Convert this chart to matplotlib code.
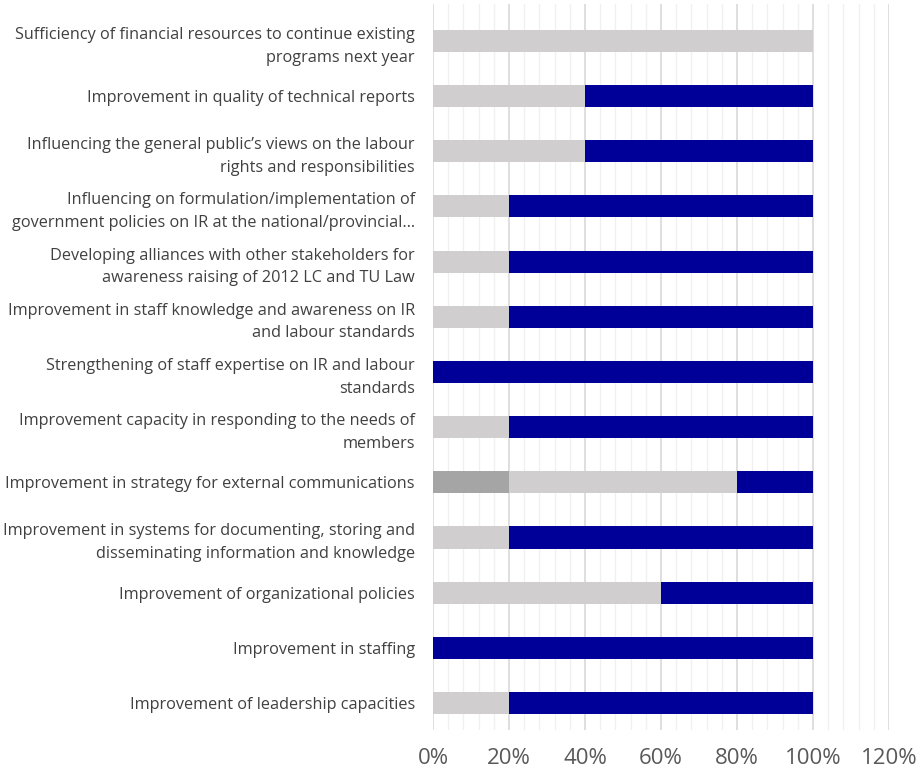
import matplotlib.pyplot as plt
from matplotlib.ticker import MultipleLocator, FuncFormatter
import numpy as np

# categories, top to bottom as in the picture
labels = [
    "Sufficiency of financial resources to continue existing\nprograms next year",
    "Improvement in quality of technical reports",
    "Influencing the general public\u2019s views on the labour\nrights and responsibilities",
    "Influencing on formulation/implementation of\ngovernment policies on IR at the national/provincial\u2026",
    "Developing alliances with other stakeholders for\nawareness raising of 2012 LC and TU Law",
    "Improvement in staff knowledge and awareness on IR\nand labour standards",
    "Strengthening of staff expertise on IR and labour\nstandards",
    "Improvement capacity in responding to the needs of\nmembers",
    "Improvement in strategy for external communications",
    "Improvement in systems for documenting, storing and\ndisseminating information and knowledge",
    "Improvement of organizational policies",
    "Improvement in staffing",
    "Improvement of leadership capacities",
]
dark_grey = [0, 0, 0, 0, 0, 0, 0, 0, 0.2, 0, 0, 0, 0]
light_grey = [1.0, 0.4, 0.4, 0.2, 0.2, 0.2, 0, 0.2, 0.6, 0.2, 0.6, 0, 0.2]
navy = [0, 0.6, 0.6, 0.8, 0.8, 0.8, 1.0, 0.8, 0.2, 0.8, 0.4, 1.0, 0.8]

plt.rcParams['font.family'] = ['Open Sans', 'DejaVu Sans']

fig = plt.figure(figsize=(9.17, 7.76), dpi=100)
ax = fig.add_axes([433 / 917, 1 - 730 / 776, 456 / 917, 726 / 776])

n = len(labels)
y = np.arange(n)[::-1]
h = 0.4
ax.barh(y, dark_grey, height=h, color="#A5A5A5", zorder=3)
ax.barh(y, light_grey, left=dark_grey, height=h, color="#D0CECE", zorder=3)
left2 = np.array(dark_grey) + np.array(light_grey)
ax.barh(y, navy, left=left2, height=h, color="#000099", zorder=3)

ax.set_xlim(0, 1.2)
ax.set_ylim(-0.49, n - 1 + 0.67)
ax.xaxis.set_major_locator(MultipleLocator(0.2))
ax.xaxis.set_minor_locator(MultipleLocator(0.04))
ax.xaxis.set_major_formatter(FuncFormatter(lambda v, p: f"{v * 100:.0f}%"))
ax.grid(axis="x", which="major", color="#D9D9D9", linewidth=1.2, zorder=0)
ax.grid(axis="x", which="minor", color="#F0F0F0", linewidth=1.0, zorder=0)

ax.set_yticks(y)
ax.set_yticklabels(labels, fontsize=11.7, color="#404040", ha="right",
                   linespacing=1.55)
ax.tick_params(axis="y", length=0, pad=13)
ax.tick_params(axis="x", which="both", length=0, labelsize=16,
               labelcolor="#595959", pad=13)
for s in ax.spines.values():
    s.set_visible(False)

fig.savefig("out.png", dpi=100)
